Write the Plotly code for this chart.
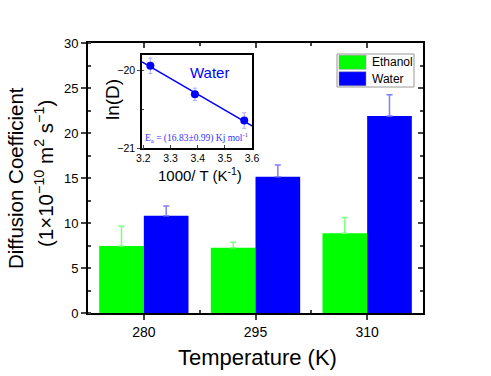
import numpy as np
import plotly.graph_objects as go

# ---- data ----
temps = [280, 295, 310]
ethanol = [7.45, 7.25, 8.85]
ethanol_err = [2.2, 0.6, 1.75]
water = [10.8, 15.15, 21.9]
water_err = [1.1, 1.3, 2.35]
inset_err = [0.1, 0.08, 0.1]
inset_xrange = [3.195, 3.6]

FONT = "Liberation Sans, Arial, sans-serif"
W, H = 491, 376
L, R, T, B = 88, 68, 43, 63
pw, ph = W - L - R, H - T - B

xpos = list(range(len(temps)))
inv_t = [1000.0 / t for t in temps]
ln_d = list(np.log(np.array(water) * 1e-10))
coef = np.polyfit(inv_t, ln_d, 1)
fit_x = inset_xrange
fit_y = list(np.polyval(coef, fit_x))
zeros = [0] * len(temps)

fig = go.Figure()
fig.add_trace(go.Bar(
    x=xpos, y=ethanol, name="Ethanol", offsetgroup="a",
    marker=dict(color="#00ff00", line=dict(width=0)),
    error_y=dict(type="data", symmetric=False, array=ethanol_err, arrayminus=zeros,
                 color="#7dff7d", thickness=1.5, width=3),
))
fig.add_trace(go.Bar(
    x=xpos, y=water, name="Water", offsetgroup="b",
    marker=dict(color="#0000ff", line=dict(width=0)),
    error_y=dict(type="data", symmetric=False, array=water_err, arrayminus=zeros,
                 color="#7d7dff", thickness=1.5, width=3),
))
# mirror axes carrier (invisible)
fig.add_trace(go.Scatter(x=xpos, y=ethanol, xaxis="x3", yaxis="y2", mode="markers",
                         marker=dict(opacity=0), hoverinfo="skip", showlegend=False))

# inset
fig.add_trace(go.Scatter(x=fit_x, y=fit_y, xaxis="x2", yaxis="y3", mode="lines",
                         line=dict(color="#0000ff", width=1.5), showlegend=False))
fig.add_trace(go.Scatter(x=inv_t, y=ln_d, xaxis="x2", yaxis="y3", mode="markers",
                         marker=dict(color="#0000ff", size=8),
                         error_y=dict(type="data", array=inset_err, color="#a8a8ff", thickness=1, width=2),
                         showlegend=False))

ix0 = (142 - L) / pw
ix1 = (252 - L) / pw
iy0 = (H - B - 148) / ph
iy1 = (H - B - 55) / ph

axis_common = dict(showline=True, linecolor="black", linewidth=2, showgrid=False, zeroline=False,
                   automargin=False)

fig.update_layout(
    width=W, height=H,
    margin=dict(l=L, r=R, t=T, b=B),
    paper_bgcolor="white", plot_bgcolor="white",
    barmode="group", bargap=0.2, bargroupgap=0,
    showlegend=False,
    font=dict(family=FONT, color="black"),
    xaxis=dict(**axis_common, range=[-0.5, 2.5], tickvals=xpos, ticktext=[str(t) for t in temps],
               ticks="outside", ticklen=5, tickwidth=1.5, tickfont=dict(size=14),
               minor=dict(tickvals=[0.5, 1.5], ticks="inside", ticklen=3, tickwidth=1.5)),
    yaxis=dict(**axis_common, range=[0, 30], dtick=5, ticks="outside", ticklen=5, tickwidth=1.5,
               tickfont=dict(size=13),
               minor=dict(dtick=2.5, ticks="inside", ticklen=3, tickwidth=1.5)),
    xaxis3=dict(**axis_common, overlaying="x", side="top", range=[-0.5, 2.5], tickvals=xpos,
                showticklabels=False, ticks="inside", ticklen=5, tickwidth=1.5,
                minor=dict(tickvals=[0.5, 1.5], ticks="inside", ticklen=3, tickwidth=1.5)),
    yaxis2=dict(**axis_common, overlaying="y", side="right", range=[0, 30], dtick=5,
                showticklabels=False, ticks="inside", ticklen=5, tickwidth=1.5,
                minor=dict(dtick=2.5, ticks="inside", ticklen=3, tickwidth=1.5)),
    xaxis2=dict(showline=True, linecolor="black", linewidth=1.5, mirror=True, showgrid=False,
                zeroline=False, automargin=False, domain=[ix0, ix1], anchor="y3", range=inset_xrange,
                dtick=0.1, tick0=3.2, ticks="inside", ticklen=3, tickwidth=1,
                tickfont=dict(size=10.5)),
    yaxis3=dict(showline=True, linecolor="black", linewidth=1.5, mirror=True, showgrid=False,
                zeroline=False, automargin=False, domain=[iy0, iy1], anchor="x2", range=[-21, -19.8],
                tickvals=[-21, -20], ticks="outside", ticklen=3, tickwidth=1,
                tickfont=dict(size=10.5),
                minor=dict(dtick=0.5, ticks="inside", ticklen=2)),
)

# axis titles as annotations (fixed pixel positions)
fig.add_annotation(text="Temperature (K)", xref="paper", yref="paper", x=0.5, y=0,
                   yanchor="middle", yshift=-(357 - (H - B)), xshift=257 - (L + pw / 2),
                   showarrow=False, font=dict(size=22))
fig.add_annotation(text="Diffusion Coefficient", textangle=-90, xref="paper", yref="paper",
                   x=0, y=0.5, xanchor="center", yanchor="middle", xshift=15 - L, yshift=0,
                   showarrow=False, font=dict(size=20.5))
fig.add_annotation(text="(1×10<sup>−10</sup> m<sup>2</sup> s<sup>−1</sup>)", textangle=-90,
                   xref="paper", yref="paper", x=0, y=0.5, xanchor="center", yanchor="middle",
                   xshift=44 - L, yshift=4, showarrow=False, font=dict(size=20.5))

# inset titles / annotations
fig.add_annotation(text="ln(D)", textangle=-90, xref="paper", yref="paper", x=0, y=0,
                   xanchor="center", yanchor="middle", xshift=112 - L, yshift=(H - B) - 100,
                   showarrow=False, font=dict(size=19))
fig.add_annotation(text="1000/ T (K<sup>-1</sup>)", xref="paper", yref="paper", x=0, y=0,
                   xanchor="center", yanchor="middle", xshift=200 - L, yshift=(H - B) - 174,
                   showarrow=False, font=dict(size=15))
fig.add_annotation(text="Water", xref="x2", yref="y3", x=3.443, y=-20.03, showarrow=False,
                   font=dict(size=15, color="#0000ff"))
fig.add_annotation(text="E<sub>a</sub> = (16.83±0.99) Kj mol<sup>-1</sup>", xref="x2", yref="y3",
                   x=3.198, y=-20.87, xanchor="left", showarrow=False,
                   font=dict(size=9.5, color="#3333ff", family="Liberation Serif, Times New Roman, serif"))

# legend (custom)
lx0 = (337 - L) / pw
lx1 = (414 - L) / pw
ly_top = (H - B - 54) / ph
ly_bot = (H - B - 87) / ph
fig.add_shape(type="rect", xref="paper", yref="paper", x0=lx0, x1=lx1, y0=ly_bot, y1=ly_top,
              line=dict(color="#999999", width=1), fillcolor="white")
legend_items = [("Ethanol", "#00ff00"), ("Water", "#0000ff")]
row_h = (ly_top - ly_bot) / 2
for i, (name, col) in enumerate(legend_items):
    yc = ly_top - row_h * (i + 0.5)
    fig.add_shape(type="rect", xref="paper", yref="paper",
                  x0=(339 - L) / pw, x1=(366 - L) / pw,
                  y0=yc - 7 / ph, y1=yc + 7 / ph, line=dict(width=0.5, color="#888888"), fillcolor=col)
    fig.add_annotation(text=name, xref="paper", yref="paper", x=(370 - L) / pw, y=yc,
                       xanchor="left", yanchor="middle", showarrow=False, font=dict(size=12))

fig.write_html("out.html", config={"displayModeBar": False},
               post_script="document.body.style.margin='0';document.body.style.padding='0';")
